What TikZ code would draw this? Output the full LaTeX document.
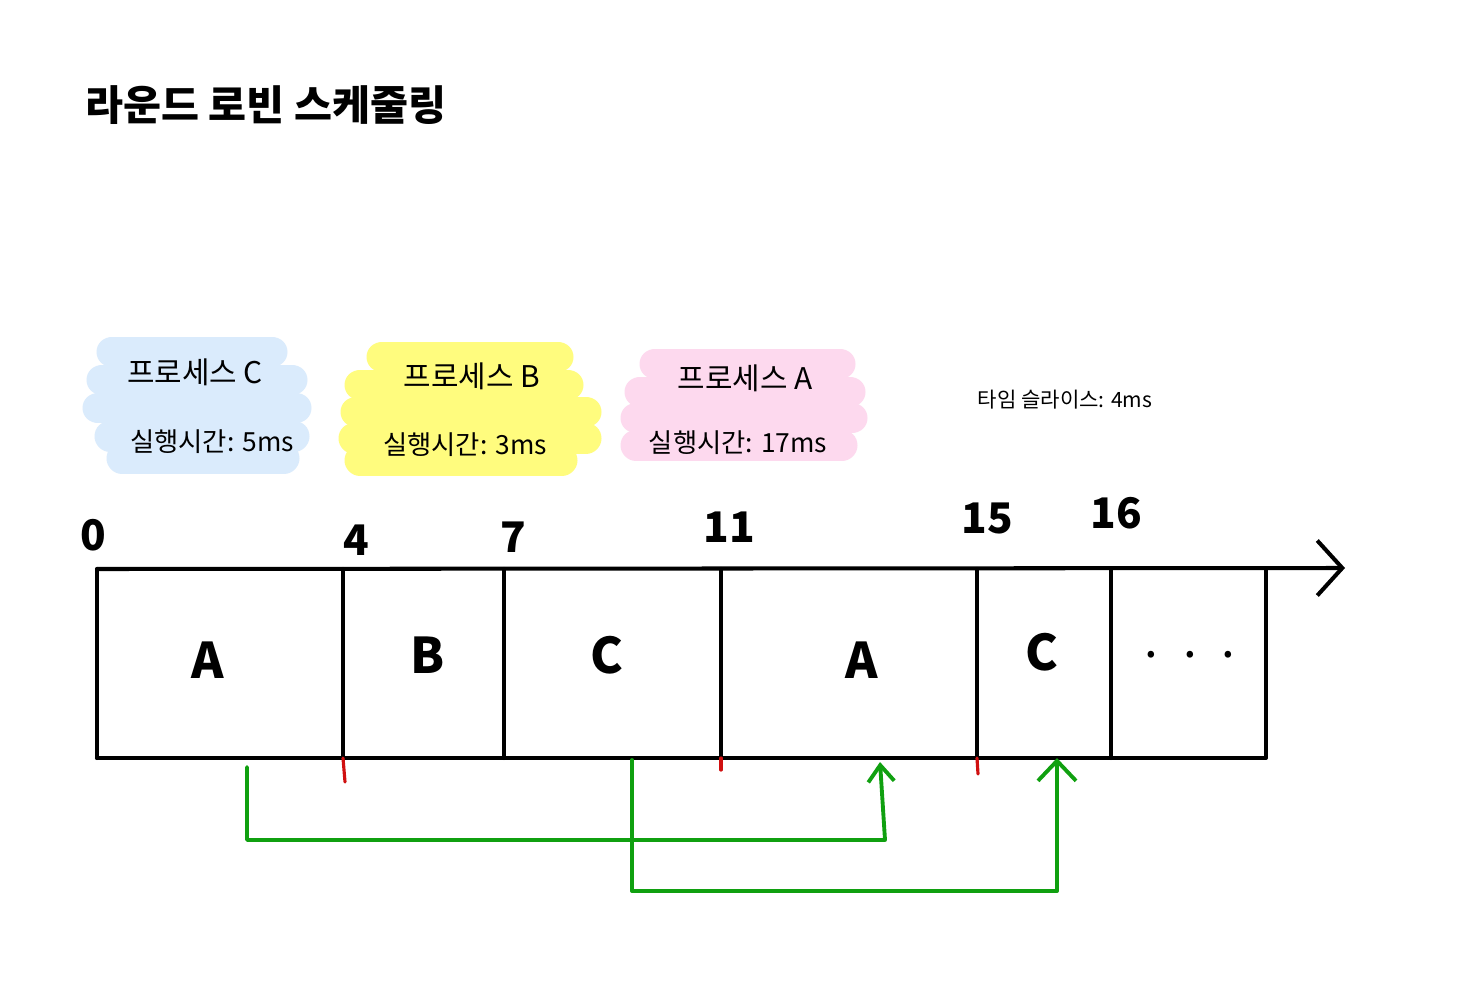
\documentclass[tikz,border=0pt]{standalone}
\usepackage{fontspec}
\setmainfont{Noto Sans CJK KR}
\usetikzlibrary{arrows.meta}
\definecolor{hlblue}{HTML}{DAEBFC}
\definecolor{hlyellow}{HTML}{FFFC7E}
\definecolor{hlpink}{HTML}{FDD9EE}
\definecolor{arrgreen}{HTML}{10A010}
\definecolor{tickred}{HTML}{D01010}
\tikzset{
  hl/.style={line width=0.62cm, line cap=round},
  boxline/.style={line width=2.3pt, line cap=round, line join=round},
  seglabel/.style={font=\fontsize{28}{32}\selectfont\bfseries},
  numlabel/.style={font=\fontsize{24}{28}\selectfont\bfseries},
  proctitle/.style={font=\fontsize{17}{20}\selectfont},
  proctime/.style={font=\fontsize{15}{18}\selectfont},
  redtick/.style={tickred, line width=1.8pt, line cap=round},
  greenarrow/.style={arrgreen, line width=2.2pt, line join=round, line cap=round},
}
\begin{document}
\begin{tikzpicture}[x=0.02cm,y=-0.02cm]
\useasboundingbox[fill=white] (0,0) rectangle (1463,1000);

% title
\node[font=\fontsize{23.5}{28}\selectfont\bfseries, anchor=west, inner sep=0pt] (title) at (85,105) {라운드 로빈 스케줄링};

% highlighter blobs
\begin{scope}[hl, hlblue]
  \draw (112,352) -- (272,352);
  \draw (102,380) -- (292,380);
  \draw (98,408) -- (296,408);
  \draw (110,436) -- (294,436);
  \draw (122,458) -- (284,458);
\end{scope}
\begin{scope}[hl, hlyellow]
  \draw (382,357) -- (558,357);
  \draw (360,385) -- (568,385);
  \draw (356,412) -- (586,412);
  \draw (354,438) -- (586,438);
  \draw (360,460) -- (562,460);
\end{scope}
\begin{scope}[hl, hlpink]
  \draw (655,364) -- (840,364);
  \draw (640,392) -- (850,392);
  \draw (636,418) -- (852,418);
  \draw (636,445) -- (842,445);
\end{scope}

% process labels
\node[proctitle] (pc) at (195,372) {프로세스 C};
\node[proctime] (pct) at (212,442) {실행시간: 5ms};
\node[proctitle] (pb) at (472,376) {프로세스 B};
\node[proctime] (pbt) at (465,445) {실행시간: 3ms};
\node[proctitle] (pa) at (745,378) {프로세스 A};
\node[proctime] (pat) at (738,443) {실행시간: 17ms};
\node[font=\fontsize{12}{14}\selectfont] (slice) at (1065,400) {타임 슬라이스: 4ms};

% timeline coordinates
\coordinate (t0) at (97,569);
\coordinate (t4) at (343,569);
\coordinate (t7) at (504,569);
\coordinate (t11) at (721,569);
\coordinate (t15) at (977,569);
\coordinate (t16) at (1111,569);
\coordinate (tend) at (1266,569);
\coordinate (b0) at (97,758);
\coordinate (b4) at (343,758);
\coordinate (b7) at (504,758);
\coordinate (b11) at (721,758);
\coordinate (b15) at (977,758);
\coordinate (b16) at (1111,758);
\coordinate (bend) at (1266,758);
\coordinate (axisend) at (1345,568);

% boxes
\draw[boxline] (b0) -- (t0);
\draw[boxline, -{Straight Barb[length=0.5cm, width=1.1cm, line width=2.3pt]}] (t0) -- (axisend);
\draw[boxline] (b0) -- (bend) -- (tend);
\foreach \i in {4,7,11,15,16} { \draw[boxline] (t\i) -- (b\i); }

% segment labels
\node[seglabel] (sA1) at (208,660) {A};
\node[seglabel] (sB) at (428,655) {B};
\node[seglabel] (sC1) at (607,655) {C};
\node[seglabel] (sA2) at (862,660) {A};
\node[seglabel] (sC2) at (1042,652) {C};
\node[font=\fontsize{28}{32}\selectfont] (sdots) at (1190,655) {.\,\,\,.\,\,\,.};

% time numbers
\node[numlabel] (n0) at (93,535) {0};
\node[numlabel] (n4) at (356,540) {4};
\node[numlabel] (n7) at (513,537) {7};
\node[numlabel] (n11) at (729,527) {11};
\node[numlabel] (n15) at (987,518) {15};
\node[numlabel] (n16) at (1116,513) {16};

% red ticks
\coordinate (r4) at (345,782);
\coordinate (r11) at (721,770);
\coordinate (r15) at (978,774);
\draw[redtick] (b4) -- (r4);
\draw[redtick] (b11) -- (r11);
\draw[redtick] (b15) -- (r15);

% green connectors
\coordinate (g1s) at (247,767);
\coordinate (g1a) at (247,840);
\coordinate (g1b) at (885,840);
\coordinate (g1e) at (880,762);
\coordinate (g2s) at (632,760);
\coordinate (g2a) at (632,891);
\coordinate (g2b) at (1057,891);
\coordinate (g2e) at (1057,758);
\draw[greenarrow, -{Straight Barb[length=0.33cm, width=0.52cm, line width=2.2pt]}] (g1s) -- (g1a) -- (g1b) -- (g1e);
\draw[greenarrow, -{Straight Barb[length=0.4cm, width=0.76cm, line width=2.2pt]}] (g2s) -- (g2a) -- (g2b) -- (g2e);
\end{tikzpicture}
\end{document}
